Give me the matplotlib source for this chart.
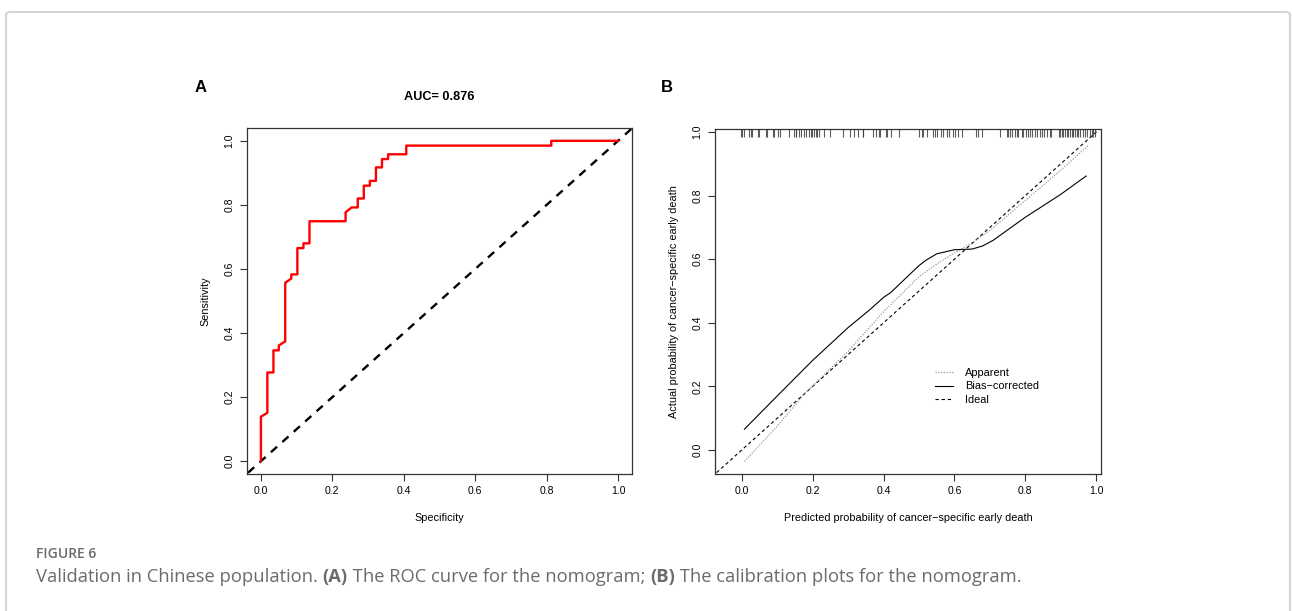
import numpy as np
import matplotlib.pyplot as plt
from matplotlib.patches import FancyBboxPatch
import matplotlib.transforms as mtransforms

plt.rcParams['font.family'] = ['Liberation Sans', 'DejaVu Sans']

# ROC curve (panel A)
roc_x = [0.0, 0.0, 0.018, 0.018, 0.035, 0.035, 0.050, 0.050, 0.068, 0.068, 0.085,
         0.085, 0.102, 0.102, 0.119, 0.119, 0.136, 0.136, 0.237, 0.237, 0.254, 0.271,
         0.271, 0.288, 0.288, 0.305, 0.305, 0.322, 0.322, 0.339, 0.339, 0.356, 0.356,
         0.407, 0.407, 0.813, 0.813, 1.0]
roc_y = [0.0, 0.139, 0.151, 0.277, 0.277, 0.346, 0.346, 0.361, 0.374, 0.557, 0.570,
         0.583, 0.583, 0.665, 0.665, 0.680, 0.680, 0.749, 0.749, 0.777, 0.792, 0.792,
         0.820, 0.820, 0.860, 0.860, 0.875, 0.875, 0.917, 0.917, 0.943, 0.943, 0.958,
         0.958, 0.985, 0.985, 1.0, 1.0]
auc_text = "AUC= 0.876"

# calibration curves (panel B)
app_x = [0.007, 0.1, 0.18, 0.3, 0.4, 0.5, 0.55, 0.6, 0.65, 0.7, 0.8, 0.9, 0.98]
app_y = [-0.037, 0.075, 0.18, 0.31, 0.435, 0.545, 0.585, 0.62, 0.652, 0.69, 0.785, 0.88, 0.96]
bias_x = [0.007, 0.1, 0.2, 0.3, 0.36, 0.4, 0.42, 0.5, 0.52, 0.55, 0.6, 0.65, 0.68,
          0.71, 0.8, 0.9, 0.972]
bias_y = [0.065, 0.17, 0.282, 0.385, 0.44, 0.48, 0.495, 0.58, 0.597, 0.617, 0.630,
          0.632, 0.642, 0.660, 0.732, 0.804, 0.862]

# predicted probabilities shown as rug at the top
rug = [-0.003, 0.001, 0.006, 0.020, 0.025, 0.029, 0.046, 0.049, 0.068, 0.071, 0.087,
       0.091, 0.103, 0.107, 0.134, 0.147, 0.152, 0.154, 0.161, 0.166, 0.175, 0.180,
       0.189, 0.194, 0.199, 0.203, 0.209, 0.213, 0.218, 0.233, 0.249, 0.286, 0.305,
       0.316, 0.329, 0.341, 0.343, 0.371, 0.378, 0.387, 0.390, 0.407, 0.410, 0.421,
       0.444, 0.501, 0.508, 0.512, 0.523, 0.540, 0.545, 0.550, 0.562, 0.567, 0.580,
       0.586, 0.597, 0.602, 0.611, 0.621, 0.661, 0.668, 0.677, 0.729, 0.748, 0.752,
       0.757, 0.762, 0.771, 0.776, 0.781, 0.790, 0.795, 0.802, 0.807, 0.814, 0.818,
       0.828, 0.832, 0.842, 0.847, 0.853, 0.861, 0.870, 0.873, 0.894, 0.898, 0.903,
       0.908, 0.912, 0.917, 0.922, 0.927, 0.931, 0.936, 0.941, 0.946, 0.950, 0.955,
       0.964, 0.969, 0.974, 0.983, 0.988, 0.992, 0.997]

ticks = [0.0, 0.2, 0.4, 0.6, 0.8, 1.0]
tick_labels = ["0.0", "0.2", "0.4", "0.6", "0.8", "1.0"]

fig = plt.figure(figsize=(12.92, 6.11), dpi=100)

# light frame round the figure
frame = FancyBboxPatch((6 / 1292, -0.05), 1284 / 1292, (611 - 12) / 611 + 0.05,
                       boxstyle="round,pad=0,rounding_size=0.004",
                       transform=fig.transFigure, fill=False,
                       edgecolor='#d4d4d4', linewidth=1.5)
fig.patches.append(frame)


def style_axes(ax):
    for s in ax.spines.values():
        s.set_color('#333333')
        s.set_linewidth(0.9)
    ax.set_xticks(ticks)
    ax.set_xticklabels(tick_labels)
    ax.set_yticks(ticks)
    ax.set_yticklabels(tick_labels, rotation=90, va='center')
    ax.tick_params(length=5, width=0.8, color='#333333', labelsize=7.5, pad=4)


# ---- panel A ----
axA = fig.add_axes([247 / 1292, 1 - 474 / 611, 385 / 1292, 346 / 611])
axA.plot([-0.1, 1.1], [-0.1, 1.1], color='black', lw=1.7, dashes=(3.5, 3))
axA.plot(roc_x, roc_y, color='#ff0000', lw=1.7)
axA.set_xlim(-0.039, 1.039)
axA.set_ylim(-0.04, 1.04)
style_axes(axA)
axA.set_xlabel("Specificity", fontsize=7.8, labelpad=12)
axA.set_ylabel("Sensitivity", fontsize=7.8, labelpad=10)
axA.set_title(auc_text, fontsize=9.2, fontweight='bold', pad=20)
fig.text(201 / 1292, 1 - 87 / 611, "A", fontsize=12, fontweight='bold',
         ha='center', va='center')

# ---- panel B ----
axB = fig.add_axes([715 / 1292, 1 - 474 / 611, 386 / 1292, 345 / 611])
axB.plot([-0.2, 1.2], [-0.2, 1.2], color='black', lw=0.8, dashes=(3, 2.5),
         label='Ideal')
axB.plot(app_x, app_y, color='#9a9a9a', lw=0.9, ls=(0, (1, 1.2)), label='Apparent')
axB.plot(bias_x, bias_y, color='black', lw=0.8, label='Bias\u2212corrected')
trans = mtransforms.blended_transform_factory(axB.transData, axB.transAxes)
axB.vlines(rug, 0.977, 1.0, transform=trans, color='#333333', lw=0.8, alpha=0.8)
axB.set_xlim(-0.076, 1.014)
axB.set_ylim(-0.076, 1.01)
style_axes(axB)
axB.set_xlabel("Predicted probability of cancer\u2212specific early death",
               fontsize=7.8, labelpad=12)
axB.set_ylabel("Actual probability of cancer\u2212specific early death",
               fontsize=7.8, labelpad=10)
h, l = axB.get_legend_handles_labels()
order = [1, 2, 0]
axB.legend([h[i] for i in order], [l[i] for i in order], loc='upper left',
           bbox_to_anchor=(0.570, 0.307), frameon=False, fontsize=7.9,
           handlelength=1.6, handletextpad=1.1, labelspacing=0.3,
           borderpad=0, borderaxespad=0)
fig.text(667 / 1292, 1 - 87 / 611, "B", fontsize=12, fontweight='bold',
         ha='center', va='center')

# caption
fig.text(36 / 1292, 1 - 554 / 611, "FIGURE 6", fontsize=10, color='#6b6b6b',
         family='Open Sans', fontweight='semibold', va='center')

cap = [("Validation in Chinese population. ", 'normal'), ("(A)", 'bold'),
       (" The ROC curve for the nomogram; ", 'normal'), ("(B)", 'bold'),
       (" The calibration plots for the nomogram.", 'normal')]
renderer = fig.canvas.get_renderer()
x0 = 36
for txt, wt in cap:
    t = fig.text(x0 / 1292, 1 - 577 / 611, txt, fontsize=13.2, color='#6b6b6b',
                 family='Open Sans', fontweight=wt, va='center')
    bb = t.get_window_extent(renderer=renderer)
    x0 += bb.width

fig.savefig("out.png", dpi=100)
